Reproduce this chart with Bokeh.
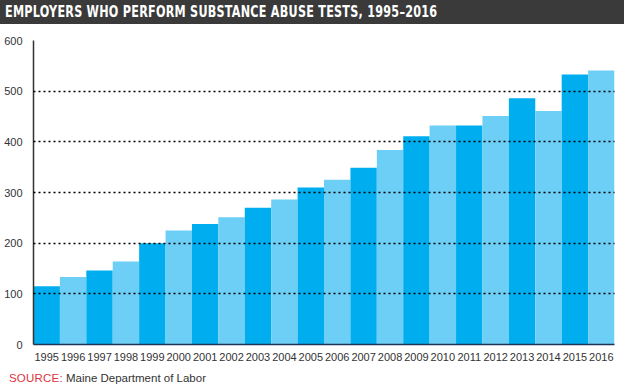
from bokeh.plotting import figure
from bokeh.models import FactorRange, Range1d, Div
from bokeh.layouts import column
from bokeh.embed import file_html
from bokeh.resources import INLINE

years = ["1995", "1996", "1997", "1998", "1999", "2000", "2001", "2002", "2003", "2004", "2005",
         "2006", "2007", "2008", "2009", "2010", "2011", "2012", "2013", "2014", "2015", "2016"]
employers = [115, 133, 146, 164, 200, 225, 238, 251, 270, 286, 310,
             325, 349, 384, 411, 432, 432, 451, 486, 461, 533, 541]
y_ticks = [0, 100, 200, 300, 400, 500, 600]

title_text = "EMPLOYERS WHO PERFORM SUBSTANCE ABUSE TESTS, 1995\u20132016"
source_head = "SOURCE:"
source_body = "Maine Department of Labor"

DARK = "#00aeef"
LIGHT = "#6dcff6"
colors = [DARK if i % 2 == 0 else LIGHT for i in range(len(years))]

SANS = "'Liberation Sans', Arial, sans-serif"
W = 624

# --- title bar ---
head = Div(
    text=('<div style="padding-left:5px;line-height:24px;white-space:nowrap;">'
          '<span style="display:inline-block;transform:scaleX(0.83);transform-origin:0 50%;'
          "font-family:'DejaVu Sans Condensed','DejaVu Sans',sans-serif;"
          'font-weight:bold;font-size:15px;letter-spacing:0.3px;color:white;">'
          + title_text + '</span></div>'),
    width=W, height=24, margin=0,
    styles={"background-color": "#3a3a3a", "overflow": "hidden"})

# --- main chart ---
p = figure(width=W, height=341,
           x_range=FactorRange(*years, range_padding=0),
           y_range=Range1d(0, 600),
           output_backend="svg", toolbar_location=None,
           min_border_left=33, min_border_right=10,
           min_border_top=16, min_border_bottom=21, margin=0)

p.vbar(x=years, top=employers, width=1.0, fill_color=colors, line_color=None)

p.outline_line_color = None
p.xgrid.visible = False
p.ygrid.ticker = y_ticks[1:]
p.ygrid.grid_line_color = "black"
p.ygrid.grid_line_dash = "2 3"
p.ygrid.grid_line_width = 1.6
p.ygrid.level = "overlay"

p.yaxis.ticker = y_ticks
p.yaxis.axis_line_color = "#333333"
p.yaxis.axis_line_width = 1.5
p.yaxis.major_tick_line_color = None
p.yaxis.minor_tick_line_color = None
p.yaxis.major_label_standoff = 5
p.yaxis.major_label_text_font = SANS
p.yaxis.major_label_text_font_size = "11px"
p.yaxis.major_label_text_color = "#333333"

p.xaxis.axis_line_color = "#1d3557"
p.xaxis.axis_line_width = 1.5
p.xaxis.major_tick_line_color = None
p.xaxis.minor_tick_line_color = None
p.xaxis.major_label_standoff = 2
p.xaxis.major_label_text_font = SANS
p.xaxis.major_label_text_font_size = "11px"
p.xaxis.major_label_text_color = "#333333"

# --- source line ---
src = Div(
    text=('<div style="padding-left:9px;padding-top:6px;line-height:14px;white-space:nowrap;'
          "font-family:'Liberation Sans',Arial,sans-serif;font-size:11.5px;\">"
          '<span style="color:#e0333f;letter-spacing:0.2px;">' + source_head + '</span>'
          '<span style="color:#333333;"> ' + source_body + '</span></div>'),
    width=W, height=20, margin=0)

layout = column(head, p, src, spacing=0)
open("out.html", "w").write(file_html(layout, INLINE))
